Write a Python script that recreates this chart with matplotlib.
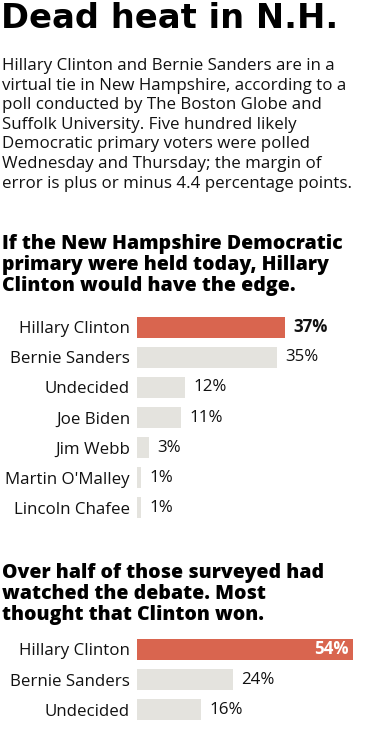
import matplotlib.pyplot as plt

# =========================
# Data
# =========================
title = "Dead heat in N.H."
intro = ("Hillary Clinton and Bernie Sanders are in a\n"
         "virtual tie in New Hampshire, according to a\n"
         "poll conducted by The Boston Globe and\n"
         "Suffolk University. Five hundred likely\n"
         "Democratic primary voters were polled\n"
         "Wednesday and Thursday; the margin of\n"
         "error is plus or minus 4.4 percentage points.")

q1_title = ("If the New Hampshire Democratic\n"
            "primary were held today, Hillary\n"
            "Clinton would have the edge.")
q1_names = ["Hillary Clinton", "Bernie Sanders", "Undecided", "Joe Biden",
            "Jim Webb", "Martin O'Malley", "Lincoln Chafee"]
q1_values = [37, 35, 12, 11, 3, 1, 1]

q2_title = ("Over half of those surveyed had\n"
            "watched the debate. Most\n"
            "thought that Clinton won.")
q2_names = ["Hillary Clinton", "Bernie Sanders", "Undecided"]
q2_values = [54, 24, 16]

RED = "#d9654f"
GRAY = "#e4e3de"
W, H = 371, 729
BODY_FONT = ["Open Sans", "DejaVu Sans"]
HEAD_FONT = ["DejaVu Sans"]


def fx(px):
    return px / W


def fy(py):
    return 1 - py / H


def bar_axes(fig, names, values, top, bottom, label_inside=False):
    ax = fig.add_axes([fx(137), fy(bottom), fx(234), (bottom - top) / H])
    y = list(range(len(names)))
    colors = [RED if i == 0 else GRAY for i in y]
    ax.barh(y, values, height=0.7, color=colors)
    ax.set_xlim(0, 58.5)
    ax.set_ylim(len(names) - 0.5, -0.5)
    ax.set_yticks(y)
    ax.set_yticklabels(names, fontsize=12.2, family=BODY_FONT, color="#111111")
    ax.tick_params(axis="y", length=0, pad=5)
    ax.set_xticks([])
    for s in ax.spines.values():
        s.set_visible(False)
    for i, v in enumerate(values):
        txt = f"{v}%"
        if i == 0 and label_inside:
            ax.text(v - 1, i, txt, ha="right", va="center", fontsize=12.2,
                    fontweight="bold", color="white", family=BODY_FONT)
        else:
            ax.text(v + 2, i, txt, ha="left", va="center", fontsize=12.2,
                    fontweight="bold" if i == 0 else "normal",
                    color="#111111", family=BODY_FONT)
    return ax


fig = plt.figure(figsize=(W / 100, H / 100), dpi=100)
fig.patch.set_facecolor("white")

fig.text(fx(1), fy(2), title, ha="left", va="top", fontsize=24.3,
         fontweight="bold", family=HEAD_FONT, color="#000000")
fig.text(fx(2), fy(58), intro, ha="left", va="top", fontsize=12.2,
         family=BODY_FONT, linespacing=1.3, color="#111111")
fig.text(fx(2), fy(234), q1_title, ha="left", va="top", fontsize=14,
         fontweight="heavy", family=BODY_FONT, linespacing=1.07,
         color="#000000")
fig.text(fx(2), fy(563), q2_title, ha="left", va="top", fontsize=14,
         fontweight="heavy", family=BODY_FONT, linespacing=1.07,
         color="#000000")

bar_axes(fig, q1_names, q1_values, 312, 523)
bar_axes(fig, q2_names, q2_values, 634, 725, label_inside=True)

fig.savefig("out.png", dpi=100, facecolor="white")
